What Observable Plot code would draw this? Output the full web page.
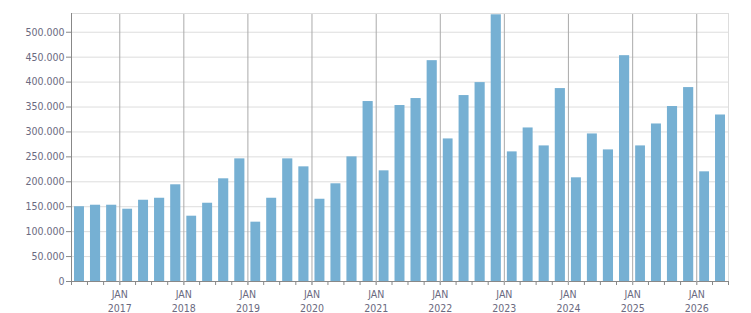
<!DOCTYPE html>
<html>
<head>
<meta charset="utf-8">
<script src="https://cdn.jsdelivr.net/npm/d3@7"></script>
<script src="https://cdn.jsdelivr.net/npm/@observablehq/plot@0.6"></script>
<style>
  html, body { margin: 0; padding: 0; background: #fff; }
  #chart svg { display: block; }
</style>
</head>
<body>
<div id="chart"></div>
<script>
const quarterStarts = [
  "2016-04-01","2016-07-01","2016-10-01",
  "2017-01-01","2017-04-01","2017-07-01","2017-10-01",
  "2018-01-01","2018-04-01","2018-07-01","2018-10-01",
  "2019-01-01","2019-04-01","2019-07-01","2019-10-01",
  "2020-01-01","2020-04-01","2020-07-01","2020-10-01",
  "2021-01-01","2021-04-01","2021-07-01","2021-10-01",
  "2022-01-01","2022-04-01","2022-07-01","2022-10-01",
  "2023-01-01","2023-04-01","2023-07-01","2023-10-01",
  "2024-01-01","2024-04-01","2024-07-01","2024-10-01",
  "2025-01-01","2025-04-01","2025-07-01","2025-10-01",
  "2026-01-01","2026-04-01"
];
const values = [
  150000,153000,153000,
  145000,163000,167000,194000,
  131000,157000,206000,246000,
  119000,167000,246000,230000,
  165000,196000,250000,361000,
  222000,353000,367000,443000,
  286000,373000,399000,535000,
  260000,308000,272000,387000,
  208000,296000,264000,453000,
  272000,316000,351000,389000,
  220000,334000
];
const yTicks = [0,50000,100000,150000,200000,250000,300000,350000,400000,450000,500000];
const janTicks = ["2017-01-01","2018-01-01","2019-01-01","2020-01-01","2021-01-01","2022-01-01","2023-01-01","2024-01-01","2025-01-01","2026-01-01"];
const xStart = "2016-04-01";
const xEnd = "2026-07-01";
const yMax = 537600;

const data = quarterStarts.map((q, i) => {
  const d = new Date(q);
  return {start: d, end: d3.utcMonth.offset(d, 3), value: values[i]};
});
const quarterTickDates = quarterStarts.map(q => new Date(q)).concat([new Date(xEnd)]);
const janDates = janTicks.map(d => new Date(d));
const fmt = d => d3.format(",")(d).replace(/,/g, ".");
const textColor = "#6a6a80";

const chart = Plot.plot({
  width: 751,
  height: 313,
  marginLeft: 71,
  marginRight: 23,
  marginTop: 13,
  marginBottom: 32,
  style: {fontFamily: "'DejaVu Sans Condensed', 'DejaVu Sans', sans-serif", fontSize: "10.5px", background: "#fff"},
  x: {type: "utc", domain: [new Date(xStart), new Date(xEnd)], label: null},
  y: {domain: [0, yMax], label: null},
  marks: [
    Plot.gridY(yTicks, {stroke: "#dddddd", strokeOpacity: 1}),
    Plot.gridX(janDates, {stroke: "#aaaaaa", strokeOpacity: 1}),
    Plot.ruleY([yMax], {stroke: "#dddddd"}),
    Plot.ruleX([new Date(xEnd)], {stroke: "#dddddd"}),
    Plot.rectY(data, {x1: "start", x2: "end", y: "value", fill: "#76b0d3", insetLeft: 3, insetRight: 3}),
    Plot.ruleX([new Date(xStart)], {stroke: "#888888"}),
    Plot.ruleY([0], {stroke: "#888888"}),
    Plot.axisY(yTicks, {label: null, tickSize: 5, tickPadding: 2, tickFormat: fmt, stroke: "#888888", color: textColor, strokeOpacity: 1}),
    Plot.axisX(quarterTickDates, {label: null, tickSize: 4, tickFormat: () => "", stroke: "#888888", strokeOpacity: 1}),
    Plot.axisX(janDates, {label: null, tickSize: 4, tickPadding: 3, lineHeight: 1.3, tickFormat: d => "JAN\n" + d.getUTCFullYear(), stroke: "#aaaaaa", color: textColor, strokeOpacity: 1})
  ]
});
document.getElementById("chart").appendChild(chart);
</script>
</body>
</html>
